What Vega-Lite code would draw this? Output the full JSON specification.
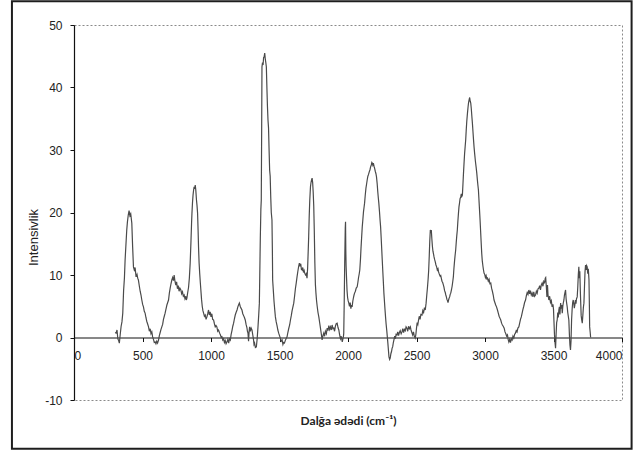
{
  "$schema": "https://vega.github.io/schema/vega-lite/v6.json",
  "width": 548,
  "height": 375,
  "autosize": {"type": "none"},
  "padding": {"left": 74, "top": 25, "right": 16, "bottom": 51},
  "background": "white",
  "config": {
    "view": {"stroke": "#8a8a8a", "strokeDash": [2, 2], "strokeWidth": 1},
    "axis": {"labelFont": "Liberation Sans", "labelFontSize": 12, "labelColor": "#222", "titleColor": "#222", "grid": false}
  },
  "data": {"values": [
    {"w":300,"i":0.8},{"w":307,"i":0.7},{"w":314,"i":1.2},{"w":320,"i":-0.2},{"w":326,"i":-0.5},{"w":331,"i":-0.9},{"w":337,"i":0.4},{"w":344,"i":1.8},{"w":350,"i":2.5},{"w":356,"i":3.9},{"w":362,"i":7.5},{"w":368,"i":9.5},{"w":373,"i":12.4},{"w":379,"i":14.8},{"w":385,"i":17.2},{"w":390,"i":18.5},{"w":396,"i":19.6},{"w":402,"i":20.3},{"w":408,"i":19.5},{"w":414,"i":19.8},{"w":422,"i":18.3},{"w":428,"i":14.5},{"w":434,"i":11.3},{"w":440,"i":10.8},{"w":446,"i":11.2},{"w":453,"i":9.7},{"w":460,"i":10.1},{"w":465,"i":9.5},{"w":470,"i":9.2},{"w":477,"i":8.2},{"w":483,"i":7.4},{"w":489,"i":6.8},{"w":495,"i":6.0},{"w":501,"i":5.3},{"w":507,"i":4.9},{"w":513,"i":4.2},{"w":519,"i":3.9},{"w":525,"i":3.2},{"w":531,"i":2.6},{"w":537,"i":2.2},{"w":544,"i":1.7},{"w":550,"i":1.0},{"w":556,"i":1.4},{"w":562,"i":0.6},{"w":568,"i":0.9},{"w":574,"i":0.1},{"w":580,"i":-0.3},{"w":586,"i":-0.8},{"w":592,"i":-0.7},{"w":598,"i":-1.0},{"w":604,"i":-0.6},{"w":610,"i":-0.9},{"w":617,"i":-0.4},{"w":623,"i":0.3},{"w":629,"i":0.8},{"w":635,"i":1.3},{"w":641,"i":1.7},{"w":647,"i":2.1},{"w":653,"i":2.9},{"w":659,"i":3.4},{"w":665,"i":3.9},{"w":671,"i":4.5},{"w":678,"i":5.2},{"w":684,"i":5.6},{"w":690,"i":6.0},{"w":696,"i":7.1},{"w":702,"i":7.9},{"w":708,"i":8.6},{"w":714,"i":9.2},{"w":720,"i":9.6},{"w":726,"i":9.1},{"w":731,"i":10.0},{"w":737,"i":9.0},{"w":743,"i":8.4},{"w":749,"i":8.9},{"w":755,"i":7.8},{"w":761,"i":8.3},{"w":767,"i":7.4},{"w":773,"i":7.9},{"w":780,"i":7.6},{"w":786,"i":7.0},{"w":792,"i":7.3},{"w":798,"i":6.6},{"w":804,"i":6.8},{"w":810,"i":6.2},{"w":816,"i":6.6},{"w":820,"i":6.0},{"w":824,"i":6.3},{"w":830,"i":7.2},{"w":836,"i":8.0},{"w":842,"i":9.5},{"w":848,"i":11.9},{"w":854,"i":15.5},{"w":858,"i":18.2},{"w":861,"i":19.9},{"w":865,"i":21.6},{"w":869,"i":22.8},{"w":873,"i":23.6},{"w":877,"i":24.1},{"w":881,"i":23.8},{"w":885,"i":24.4},{"w":889,"i":23.6},{"w":894,"i":22.0},{"w":898,"i":21.1},{"w":902,"i":19.9},{"w":906,"i":17.0},{"w":909,"i":14.5},{"w":913,"i":12.0},{"w":918,"i":10.1},{"w":922,"i":8.8},{"w":926,"i":7.6},{"w":931,"i":6.1},{"w":936,"i":5.0},{"w":941,"i":4.3},{"w":946,"i":3.9},{"w":952,"i":3.4},{"w":958,"i":3.6},{"w":964,"i":2.9},{"w":970,"i":3.3},{"w":976,"i":3.8},{"w":982,"i":4.4},{"w":988,"i":3.6},{"w":994,"i":4.1},{"w":1000,"i":3.3},{"w":1006,"i":3.8},{"w":1012,"i":2.9},{"w":1019,"i":2.8},{"w":1025,"i":2.2},{"w":1031,"i":1.7},{"w":1037,"i":1.9},{"w":1043,"i":1.7},{"w":1049,"i":1.0},{"w":1055,"i":1.2},{"w":1063,"i":0.7},{"w":1069,"i":0.4},{"w":1075,"i":0.0},{"w":1080,"i":0.1},{"w":1086,"i":-0.4},{"w":1092,"i":-0.2},{"w":1098,"i":-0.8},{"w":1104,"i":-0.5},{"w":1110,"i":-1.0},{"w":1117,"i":-0.7},{"w":1123,"i":-0.3},{"w":1129,"i":-0.9},{"w":1135,"i":-0.2},{"w":1141,"i":-0.4},{"w":1147,"i":0.5},{"w":1153,"i":1.1},{"w":1159,"i":1.8},{"w":1165,"i":2.3},{"w":1171,"i":3.0},{"w":1177,"i":3.6},{"w":1183,"i":4.0},{"w":1190,"i":4.4},{"w":1196,"i":4.9},{"w":1201,"i":5.2},{"w":1207,"i":5.5},{"w":1213,"i":5.0},{"w":1219,"i":4.7},{"w":1226,"i":4.4},{"w":1232,"i":3.8},{"w":1238,"i":3.5},{"w":1244,"i":3.2},{"w":1250,"i":2.8},{"w":1256,"i":2.1},{"w":1262,"i":1.6},{"w":1266,"i":1.0},{"w":1270,"i":0.7},{"w":1274,"i":-0.6},{"w":1278,"i":0.9},{"w":1282,"i":1.7},{"w":1287,"i":1.0},{"w":1293,"i":1.5},{"w":1299,"i":1.2},{"w":1305,"i":0.4},{"w":1310,"i":-0.3},{"w":1314,"i":-1.1},{"w":1318,"i":-0.9},{"w":1324,"i":-1.6},{"w":1331,"i":-1.5},{"w":1337,"i":-0.2},{"w":1343,"i":1.7},{"w":1348,"i":3.5},{"w":1353,"i":5.5},{"w":1356,"i":10.0},{"w":1360,"i":16.0},{"w":1364,"i":20.5},{"w":1367,"i":22.0},{"w":1370,"i":34.0},{"w":1372,"i":43.3},{"w":1376,"i":44.0},{"w":1380,"i":43.6},{"w":1384,"i":44.8},{"w":1388,"i":44.9},{"w":1392,"i":45.5},{"w":1396,"i":44.6},{"w":1400,"i":44.0},{"w":1404,"i":43.3},{"w":1408,"i":40.0},{"w":1412,"i":37.0},{"w":1416,"i":34.8},{"w":1420,"i":33.5},{"w":1424,"i":30.0},{"w":1428,"i":26.8},{"w":1432,"i":25.8},{"w":1436,"i":22.5},{"w":1440,"i":20.0},{"w":1445,"i":18.8},{"w":1448,"i":14.0},{"w":1450,"i":9.2},{"w":1455,"i":7.5},{"w":1460,"i":5.8},{"w":1465,"i":4.5},{"w":1470,"i":3.3},{"w":1476,"i":2.5},{"w":1482,"i":1.9},{"w":1488,"i":1.2},{"w":1494,"i":0.7},{"w":1500,"i":0.3},{"w":1506,"i":-0.1},{"w":1512,"i":-0.6},{"w":1519,"i":-0.4},{"w":1525,"i":-1.1},{"w":1530,"i":-0.8},{"w":1536,"i":-0.9},{"w":1542,"i":-0.5},{"w":1548,"i":-0.2},{"w":1555,"i":0.1},{"w":1561,"i":0.8},{"w":1567,"i":1.4},{"w":1574,"i":2.0},{"w":1580,"i":2.8},{"w":1586,"i":3.5},{"w":1592,"i":4.3},{"w":1598,"i":4.9},{"w":1604,"i":5.5},{"w":1610,"i":6.6},{"w":1616,"i":7.8},{"w":1622,"i":8.7},{"w":1628,"i":9.7},{"w":1634,"i":10.6},{"w":1640,"i":11.4},{"w":1645,"i":11.9},{"w":1650,"i":11.4},{"w":1655,"i":11.8},{"w":1660,"i":10.9},{"w":1665,"i":10.8},{"w":1670,"i":11.2},{"w":1675,"i":10.4},{"w":1680,"i":10.7},{"w":1684,"i":10.3},{"w":1690,"i":10.0},{"w":1695,"i":10.2},{"w":1701,"i":9.5},{"w":1705,"i":11.0},{"w":1709,"i":13.5},{"w":1713,"i":16.1},{"w":1717,"i":19.5},{"w":1721,"i":22.0},{"w":1726,"i":24.1},{"w":1730,"i":24.8},{"w":1734,"i":25.2},{"w":1738,"i":25.5},{"w":1742,"i":24.8},{"w":1746,"i":23.2},{"w":1750,"i":21.0},{"w":1754,"i":17.0},{"w":1758,"i":12.0},{"w":1762,"i":8.5},{"w":1766,"i":7.1},{"w":1770,"i":6.0},{"w":1775,"i":5.0},{"w":1781,"i":4.0},{"w":1787,"i":3.3},{"w":1793,"i":2.4},{"w":1799,"i":1.5},{"w":1805,"i":0.6},{"w":1811,"i":-0.4},{"w":1817,"i":0.3},{"w":1823,"i":0.7},{"w":1829,"i":0.2},{"w":1835,"i":1.0},{"w":1842,"i":0.6},{"w":1848,"i":1.5},{"w":1854,"i":1.1},{"w":1860,"i":1.9},{"w":1866,"i":1.3},{"w":1872,"i":1.7},{"w":1878,"i":1.2},{"w":1884,"i":2.0},{"w":1890,"i":1.4},{"w":1896,"i":1.5},{"w":1902,"i":1.0},{"w":1908,"i":1.8},{"w":1914,"i":2.2},{"w":1921,"i":2.3},{"w":1927,"i":1.6},{"w":1933,"i":1.2},{"w":1939,"i":0.4},{"w":1945,"i":-0.2},{"w":1951,"i":0.2},{"w":1958,"i":-0.7},{"w":1963,"i":-0.2},{"w":1967,"i":0.2},{"w":1969,"i":0.7},{"w":1972,"i":5.0},{"w":1976,"i":12.0},{"w":1980,"i":17.5},{"w":1982,"i":18.5},{"w":1984,"i":14.0},{"w":1986,"i":11.5},{"w":1989,"i":9.7},{"w":1993,"i":7.5},{"w":1997,"i":6.4},{"w":2001,"i":5.9},{"w":2006,"i":5.5},{"w":2011,"i":5.0},{"w":2016,"i":5.6},{"w":2021,"i":4.6},{"w":2026,"i":5.2},{"w":2030,"i":4.9},{"w":2035,"i":5.8},{"w":2040,"i":6.4},{"w":2044,"i":6.8},{"w":2048,"i":7.1},{"w":2054,"i":7.4},{"w":2060,"i":7.9},{"w":2067,"i":8.1},{"w":2072,"i":8.8},{"w":2077,"i":9.6},{"w":2082,"i":10.2},{"w":2086,"i":10.8},{"w":2091,"i":12.5},{"w":2095,"i":14.3},{"w":2100,"i":16.2},{"w":2104,"i":17.7},{"w":2109,"i":19.0},{"w":2113,"i":20.1},{"w":2117,"i":20.8},{"w":2121,"i":21.5},{"w":2126,"i":22.8},{"w":2131,"i":23.9},{"w":2136,"i":24.6},{"w":2140,"i":25.2},{"w":2145,"i":25.8},{"w":2150,"i":26.1},{"w":2155,"i":26.5},{"w":2160,"i":26.8},{"w":2165,"i":27.3},{"w":2170,"i":27.6},{"w":2174,"i":28.0},{"w":2177,"i":27.9},{"w":2181,"i":27.6},{"w":2185,"i":27.9},{"w":2190,"i":27.4},{"w":2194,"i":27.1},{"w":2199,"i":26.6},{"w":2204,"i":26.2},{"w":2208,"i":25.7},{"w":2213,"i":24.6},{"w":2217,"i":23.4},{"w":2221,"i":22.4},{"w":2225,"i":21.5},{"w":2230,"i":20.1},{"w":2234,"i":18.8},{"w":2238,"i":17.7},{"w":2242,"i":16.0},{"w":2246,"i":14.2},{"w":2250,"i":12.4},{"w":2254,"i":10.6},{"w":2258,"i":8.9},{"w":2262,"i":7.1},{"w":2266,"i":5.8},{"w":2270,"i":4.5},{"w":2274,"i":3.3},{"w":2278,"i":2.2},{"w":2283,"i":1.1},{"w":2287,"i":0.1},{"w":2291,"i":-0.9},{"w":2295,"i":-2.0},{"w":2299,"i":-3.1},{"w":2304,"i":-3.5},{"w":2308,"i":-3.3},{"w":2313,"i":-2.6},{"w":2318,"i":-2.2},{"w":2322,"i":-1.7},{"w":2326,"i":-1.5},{"w":2331,"i":-0.8},{"w":2336,"i":-0.3},{"w":2341,"i":0.2},{"w":2346,"i":-0.2},{"w":2351,"i":0.5},{"w":2357,"i":0.4},{"w":2363,"i":0.9},{"w":2369,"i":0.3},{"w":2375,"i":0.8},{"w":2381,"i":1.1},{"w":2388,"i":0.6},{"w":2394,"i":0.9},{"w":2400,"i":1.4},{"w":2406,"i":0.8},{"w":2412,"i":1.3},{"w":2418,"i":1.1},{"w":2424,"i":1.7},{"w":2430,"i":1.5},{"w":2436,"i":1.0},{"w":2442,"i":1.8},{"w":2448,"i":1.4},{"w":2455,"i":1.7},{"w":2460,"i":1.2},{"w":2466,"i":0.8},{"w":2472,"i":0.4},{"w":2478,"i":0.9},{"w":2484,"i":0.2},{"w":2491,"i":-0.1},{"w":2496,"i":0.6},{"w":2500,"i":1.5},{"w":2505,"i":2.4},{"w":2510,"i":2.1},{"w":2515,"i":2.8},{"w":2520,"i":3.4},{"w":2526,"i":2.9},{"w":2532,"i":3.7},{"w":2540,"i":3.6},{"w":2546,"i":4.3},{"w":2552,"i":4.0},{"w":2558,"i":4.8},{"w":2564,"i":4.4},{"w":2570,"i":5.5},{"w":2575,"i":6.8},{"w":2580,"i":8.0},{"w":2585,"i":9.4},{"w":2589,"i":10.8},{"w":2593,"i":13.0},{"w":2597,"i":15.5},{"w":2601,"i":17.2},{"w":2605,"i":16.8},{"w":2608,"i":17.2},{"w":2612,"i":15.8},{"w":2616,"i":14.6},{"w":2620,"i":13.8},{"w":2624,"i":13.4},{"w":2628,"i":12.9},{"w":2632,"i":12.5},{"w":2637,"i":12.1},{"w":2642,"i":11.6},{"w":2647,"i":11.3},{"w":2652,"i":10.8},{"w":2657,"i":11.0},{"w":2661,"i":10.5},{"w":2664,"i":10.3},{"w":2669,"i":10.0},{"w":2673,"i":9.8},{"w":2677,"i":9.9},{"w":2681,"i":9.5},{"w":2686,"i":9.0},{"w":2691,"i":8.8},{"w":2695,"i":8.5},{"w":2700,"i":8.1},{"w":2705,"i":7.5},{"w":2710,"i":7.2},{"w":2714,"i":6.8},{"w":2718,"i":6.5},{"w":2722,"i":6.1},{"w":2726,"i":5.9},{"w":2730,"i":5.6},{"w":2734,"i":6.0},{"w":2738,"i":6.3},{"w":2742,"i":6.5},{"w":2746,"i":6.9},{"w":2750,"i":7.1},{"w":2755,"i":7.6},{"w":2760,"i":8.2},{"w":2765,"i":9.0},{"w":2769,"i":9.7},{"w":2773,"i":11.0},{"w":2778,"i":12.3},{"w":2782,"i":13.2},{"w":2786,"i":14.0},{"w":2790,"i":15.2},{"w":2794,"i":16.3},{"w":2798,"i":17.2},{"w":2802,"i":18.6},{"w":2806,"i":19.8},{"w":2810,"i":20.9},{"w":2814,"i":21.5},{"w":2818,"i":22.2},{"w":2823,"i":22.5},{"w":2827,"i":23.0},{"w":2831,"i":22.6},{"w":2835,"i":22.8},{"w":2839,"i":24.5},{"w":2843,"i":26.3},{"w":2847,"i":27.9},{"w":2851,"i":29.4},{"w":2855,"i":30.5},{"w":2859,"i":31.6},{"w":2863,"i":33.2},{"w":2867,"i":34.6},{"w":2872,"i":35.9},{"w":2876,"i":36.8},{"w":2880,"i":37.6},{"w":2884,"i":38.0},{"w":2888,"i":38.4},{"w":2892,"i":37.8},{"w":2896,"i":37.5},{"w":2900,"i":36.6},{"w":2904,"i":35.4},{"w":2908,"i":34.3},{"w":2912,"i":33.0},{"w":2916,"i":31.7},{"w":2920,"i":30.5},{"w":2925,"i":29.3},{"w":2930,"i":28.2},{"w":2935,"i":27.3},{"w":2940,"i":26.3},{"w":2944,"i":25.3},{"w":2948,"i":24.4},{"w":2952,"i":23.6},{"w":2956,"i":22.0},{"w":2960,"i":20.4},{"w":2964,"i":18.8},{"w":2968,"i":17.0},{"w":2972,"i":15.2},{"w":2976,"i":13.5},{"w":2980,"i":12.3},{"w":2985,"i":11.4},{"w":2989,"i":10.8},{"w":2993,"i":10.3},{"w":2998,"i":10.1},{"w":3003,"i":9.6},{"w":3008,"i":9.9},{"w":3013,"i":9.4},{"w":3018,"i":9.5},{"w":3024,"i":9.0},{"w":3030,"i":9.3},{"w":3036,"i":8.6},{"w":3042,"i":8.7},{"w":3048,"i":7.9},{"w":3054,"i":7.4},{"w":3060,"i":6.8},{"w":3066,"i":6.0},{"w":3072,"i":5.6},{"w":3078,"i":5.2},{"w":3084,"i":4.9},{"w":3091,"i":4.4},{"w":3097,"i":3.9},{"w":3103,"i":3.4},{"w":3109,"i":3.1},{"w":3115,"i":2.8},{"w":3121,"i":2.3},{"w":3127,"i":2.0},{"w":3133,"i":1.8},{"w":3140,"i":1.5},{"w":3146,"i":0.9},{"w":3152,"i":0.6},{"w":3158,"i":0.2},{"w":3164,"i":0.4},{"w":3169,"i":-0.3},{"w":3174,"i":-0.7},{"w":3180,"i":-0.3},{"w":3186,"i":-0.8},{"w":3192,"i":-0.2},{"w":3198,"i":-0.4},{"w":3204,"i":0.2},{"w":3210,"i":-0.1},{"w":3216,"i":0.5},{"w":3222,"i":0.7},{"w":3228,"i":1.1},{"w":3234,"i":0.9},{"w":3240,"i":1.5},{"w":3247,"i":1.7},{"w":3253,"i":2.3},{"w":3259,"i":2.9},{"w":3265,"i":3.3},{"w":3271,"i":3.9},{"w":3277,"i":4.5},{"w":3283,"i":5.0},{"w":3289,"i":5.6},{"w":3296,"i":6.0},{"w":3302,"i":6.7},{"w":3308,"i":7.2},{"w":3314,"i":6.9},{"w":3320,"i":7.6},{"w":3326,"i":7.0},{"w":3332,"i":7.5},{"w":3338,"i":6.8},{"w":3344,"i":7.1},{"w":3350,"i":6.5},{"w":3356,"i":7.3},{"w":3362,"i":6.6},{"w":3369,"i":6.8},{"w":3375,"i":7.4},{"w":3381,"i":7.1},{"w":3387,"i":7.8},{"w":3393,"i":7.9},{"w":3399,"i":8.3},{"w":3405,"i":7.6},{"w":3411,"i":8.4},{"w":3417,"i":8.7},{"w":3423,"i":8.2},{"w":3429,"i":9.0},{"w":3435,"i":8.8},{"w":3440,"i":9.5},{"w":3443,"i":9.6},{"w":3448,"i":8.0},{"w":3452,"i":6.5},{"w":3456,"i":8.4},{"w":3460,"i":6.8},{"w":3466,"i":6.0},{"w":3472,"i":6.6},{"w":3478,"i":5.6},{"w":3484,"i":5.9},{"w":3490,"i":4.9},{"w":3496,"i":5.3},{"w":3500,"i":4.5},{"w":3503,"i":2.8},{"w":3507,"i":0.5},{"w":3511,"i":-0.8},{"w":3515,"i":-1.7},{"w":3519,"i":0.5},{"w":3523,"i":2.4},{"w":3527,"i":2.8},{"w":3531,"i":4.0},{"w":3535,"i":3.2},{"w":3539,"i":4.4},{"w":3543,"i":4.9},{"w":3547,"i":3.7},{"w":3552,"i":5.5},{"w":3556,"i":4.6},{"w":3560,"i":5.2},{"w":3564,"i":3.9},{"w":3568,"i":5.0},{"w":3572,"i":5.6},{"w":3576,"i":6.0},{"w":3580,"i":6.8},{"w":3584,"i":7.2},{"w":3588,"i":7.6},{"w":3592,"i":6.2},{"w":3596,"i":5.5},{"w":3600,"i":4.9},{"w":3604,"i":4.0},{"w":3608,"i":3.4},{"w":3612,"i":2.8},{"w":3616,"i":0.5},{"w":3620,"i":-1.2},{"w":3624,"i":-2.0},{"w":3628,"i":-0.5},{"w":3632,"i":2.8},{"w":3636,"i":4.5},{"w":3640,"i":5.6},{"w":3644,"i":6.0},{"w":3648,"i":5.5},{"w":3652,"i":4.7},{"w":3656,"i":5.2},{"w":3660,"i":6.0},{"w":3664,"i":5.4},{"w":3668,"i":6.2},{"w":3673,"i":6.5},{"w":3677,"i":8.0},{"w":3681,"i":10.0},{"w":3685,"i":11.3},{"w":3688,"i":9.5},{"w":3692,"i":10.6},{"w":3695,"i":8.1},{"w":3698,"i":6.0},{"w":3702,"i":3.5},{"w":3706,"i":2.8},{"w":3710,"i":2.3},{"w":3714,"i":3.5},{"w":3718,"i":4.8},{"w":3722,"i":5.5},{"w":3726,"i":8.0},{"w":3730,"i":10.5},{"w":3734,"i":11.6},{"w":3738,"i":10.8},{"w":3742,"i":11.5},{"w":3746,"i":11.3},{"w":3750,"i":10.2},{"w":3754,"i":11.0},{"w":3759,"i":9.2},{"w":3762,"i":5.0},{"w":3764,"i":1.7},{"w":3768,"i":0.8},{"w":3771,"i":0.0}
  ]},
  "layer": [
    {
      "data": {"values": [{}]},
      "mark": {"type": "rect", "fill": null, "stroke": "#1e1e1e", "strokeWidth": 2, "clip": false},
      "encoding": {
        "x": {"datum": -453, "type": "quantitative"},
        "x2": {"datum": 4070},
        "y": {"datum": 53.8, "type": "quantitative"},
        "y2": {"datum": -17.8}
      }
    },
    {
      "mark": {"type": "line", "color": "#4a4a4a", "strokeWidth": 1.2, "interpolate": "linear"},
      "encoding": {
        "x": {
          "field": "w", "type": "quantitative",
          "scale": {"domain": [0, 4000], "nice": false, "zero": false},
          "axis": {
            "values": [0, 500, 1000, 1500, 2000, 2500, 3000, 3500, 4000],
            "labelExpr": "'' + datum.value",
            "offset": -62.5,
            "domainColor": "#111", "domainWidth": 1,
            "tickColor": "#111", "tickSize": 4,
            "labelPadding": 9,
            "title": "Dalğa ədədi (cm⁻¹)",
            "titleFont": "Lato", "titleFontSize": 12, "titleFontWeight": "bold",
            "titleBaseline": "middle", "titleY": 83
          }
        },
        "y": {
          "field": "i", "type": "quantitative",
          "scale": {"domain": [-10, 50], "nice": false, "zero": false},
          "axis": {
            "values": [-10, 0, 10, 20, 30, 40, 50],
            "labelExpr": "'' + datum.value",
            "domainColor": "#111", "domainWidth": 1.2,
            "tickColor": "#111", "tickSize": 4,
            "labelPadding": 8,
            "title": "Intensivlik",
            "titleFont": "Liberation Sans", "titleFontSize": 13, "titleFontWeight": "normal",
            "titleAngle": -90, "titleX": -41, "titleY": 212, "titleBaseline": "middle", "titleAlign": "center"
          }
        }
      }
    }
  ]
}
